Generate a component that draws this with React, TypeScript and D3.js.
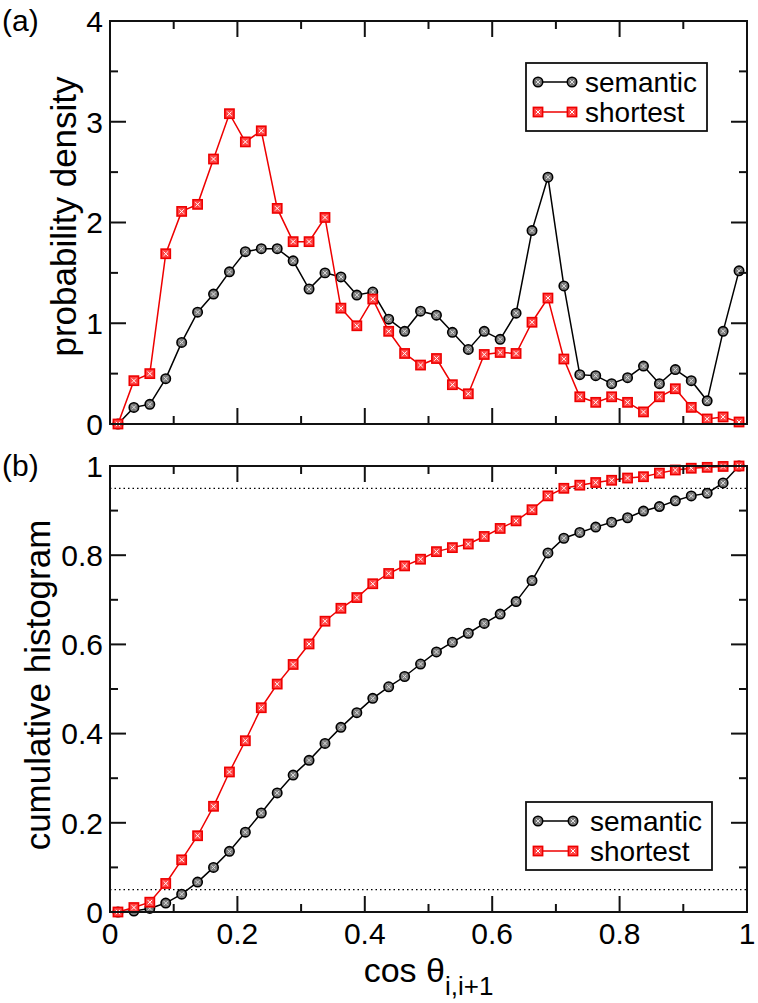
import React from "react";
import * as d3 from "d3";

const binCenters = [
  0.0125, 0.0375, 0.0625, 0.0875, 0.1125, 0.1375, 0.1625, 0.1875, 0.2125, 0.2375,
  0.2625, 0.2875, 0.3125, 0.3375, 0.3625, 0.3875, 0.4125, 0.4375, 0.4625, 0.4875,
  0.5125, 0.5375, 0.5625, 0.5875, 0.6125, 0.6375, 0.6625, 0.6875, 0.7125, 0.7375,
  0.7625, 0.7875, 0.8125, 0.8375, 0.8625, 0.8875, 0.9125, 0.9375, 0.9625, 0.9875,
];

const semanticDensity = [
  0, 0.165, 0.195, 0.45, 0.81, 1.11, 1.29, 1.51, 1.71, 1.74,
  1.74, 1.62, 1.34, 1.5, 1.46, 1.28, 1.31, 1.04, 0.92, 1.12,
  1.08, 0.91, 0.74, 0.92, 0.84, 1.1, 1.92, 2.45, 1.37, 0.49,
  0.48, 0.4, 0.46, 0.575, 0.4, 0.54, 0.43, 0.23, 0.92, 1.52,
];
const shortestDensity = [
  0, 0.43, 0.5, 1.69, 2.11, 2.18, 2.63, 3.08, 2.8, 2.91,
  2.14, 1.81, 1.81, 2.05, 1.15, 0.975, 1.24, 0.92, 0.7, 0.585,
  0.65, 0.39, 0.3, 0.69, 0.71, 0.7, 1.01, 1.25, 0.645, 0.27,
  0.215, 0.27, 0.215, 0.12, 0.27, 0.35, 0.165, 0.05, 0.07, 0.02,
];
const semanticCumulative = [
  0, 0.002, 0.008, 0.02, 0.04, 0.067, 0.1, 0.136, 0.179, 0.222,
  0.267, 0.307, 0.34, 0.378, 0.414, 0.447, 0.479, 0.505, 0.528, 0.556,
  0.583, 0.605, 0.625, 0.647, 0.668, 0.696, 0.743, 0.805, 0.838, 0.851,
  0.863, 0.874, 0.884, 0.899, 0.909, 0.922, 0.933, 0.939, 0.962, 1.0,
];
const shortestCumulative = [
  0, 0.01, 0.022, 0.064, 0.117, 0.171, 0.237, 0.314, 0.384, 0.458,
  0.511, 0.555, 0.601, 0.652, 0.681, 0.705, 0.736, 0.759, 0.776, 0.791,
  0.808, 0.817, 0.825, 0.842, 0.86, 0.877, 0.902, 0.933, 0.95, 0.957,
  0.963, 0.968, 0.973, 0.976, 0.984, 0.991, 0.995, 0.997, 0.999, 1.0,
];

const xMajorTicks = [0, 0.2, 0.4, 0.6, 0.8, 1];
const xTickLabels = ["0", "0.2", "0.4", "0.6", "0.8", "1"];
const xMinorTicks = [0.1, 0.3, 0.5, 0.7, 0.9];
const yTopMajor = [0, 1, 2, 3, 4];
const yTopLabels = ["0", "1", "2", "3", "4"];
const yTopMinor = [0.5, 1.5, 2.5, 3.5];
const yBotMajor = [0, 0.2, 0.4, 0.6, 0.8, 1];
const yBotLabels = ["0", "0.2", "0.4", "0.6", "0.8", "1"];
const yBotMinor = [0.1, 0.3, 0.5, 0.7, 0.9];
const thresholds = [0.05, 0.95];
const seriesNames = ["semantic", "shortest"];

const FONT = "'Liberation Sans', Arial, Helvetica, sans-serif";
const RED = "#ee0000";
const L = 110, R = 747;
const TOP_A = 21, BOT_A = 424;
const TOP_B = 466, BOT_B = 912;
const MAJ = 16, MIN = 8;
const TICK_FS = 30;

const x = d3.scaleLinear().domain([0, 1]).range([L, R]);
const yA = d3.scaleLinear().domain([0, 4]).range([BOT_A, TOP_A]);
const yB = d3.scaleLinear().domain([0, 1]).range([BOT_B, TOP_B]);

function Circ({ cx, cy }: { cx: number; cy: number }) {
  const r = 4.7;
  const d = 2;
  return (
    <g>
      <circle cx={cx} cy={cy} r={r} fill="#7a7a7a" stroke="#000" strokeWidth={1.6} />
      <path d={`M${cx - d},${cy - d}L${cx + d},${cy + d}M${cx - d},${cy + d}L${cx + d},${cy - d}`} stroke="#e0e0e0" strokeWidth={1} />
    </g>
  );
}
function Sq({ cx, cy }: { cx: number; cy: number }) {
  const h = 4.6;
  const d = 2.2;
  return (
    <g>
      <rect x={cx - h} y={cy - h} width={2 * h} height={2 * h} fill="#f44" stroke={RED} strokeWidth={1.6} />
      <path d={`M${cx - d},${cy - d}L${cx + d},${cy + d}M${cx - d},${cy + d}L${cx + d},${cy - d}`} stroke="#fff" strokeWidth={1} />
    </g>
  );
}

function Series({ vals, y, kind }: { vals: number[]; y: d3.ScaleLinear<number, number>; kind: "c" | "s" }) {
  const pts: [number, number][] = binCenters.map((c, i) => [x(c), y(vals[i])]);
  const line = d3.line()(pts) || "";
  return (
    <g>
      <path d={line} fill="none" stroke={kind === "c" ? "#000" : RED} strokeWidth={1.5} />
      {pts.map((p, i) => (kind === "c" ? <Circ key={i} cx={p[0]} cy={p[1]} /> : <Sq key={i} cx={p[0]} cy={p[1]} />))}
    </g>
  );
}

function Frame({ top, bot, y, yMaj, yMin, yLabels }: any) {
  const ticks: JSX.Element[] = [];
  xMajorTicks.forEach((t, i) => {
    ticks.push(<line key={`xm${i}`} x1={x(t)} x2={x(t)} y1={bot} y2={bot - MAJ} />);
    ticks.push(<line key={`xmt${i}`} x1={x(t)} x2={x(t)} y1={top} y2={top + MAJ} />);
  });
  xMinorTicks.forEach((t, i) => {
    ticks.push(<line key={`xn${i}`} x1={x(t)} x2={x(t)} y1={bot} y2={bot - MIN} />);
    ticks.push(<line key={`xnt${i}`} x1={x(t)} x2={x(t)} y1={top} y2={top + MIN} />);
  });
  yMaj.forEach((t: number, i: number) => {
    ticks.push(<line key={`ym${i}`} x1={L} x2={L + MAJ} y1={y(t)} y2={y(t)} />);
    ticks.push(<line key={`ymr${i}`} x1={R} x2={R - MAJ} y1={y(t)} y2={y(t)} />);
  });
  yMin.forEach((t: number, i: number) => {
    ticks.push(<line key={`yn${i}`} x1={L} x2={L + MIN} y1={y(t)} y2={y(t)} />);
    ticks.push(<line key={`ynr${i}`} x1={R} x2={R - MIN} y1={y(t)} y2={y(t)} />);
  });
  return (
    <g>
      <g stroke="#111" strokeWidth={2}>{ticks}</g>
      <rect x={L} y={top} width={R - L} height={bot - top} fill="none" stroke="#111" strokeWidth={2} />
      {yMaj.map((t: number, i: number) => (
        <text key={i} x={103} y={y(t)} dy="0.36em" textAnchor="end" fontSize={TICK_FS} fontFamily={FONT}>
          {yLabels[i]}
        </text>
      ))}
    </g>
  );
}

function Legend({ x0, y0, w, h, lx1, lx2, tx, rows }: any) {
  return (
    <g>
      <rect x={x0} y={y0} width={w} height={h} fill="#fff" stroke="#111" strokeWidth={1.8} />
      {rows.map((ry: number, i: number) => (
        <g key={i}>
          <line x1={lx1} x2={lx2} y1={ry} y2={ry} stroke={i === 0 ? "#000" : RED} strokeWidth={1.5} />
          {i === 0 ? (
            <>
              <Circ cx={lx1} cy={ry} />
              <Circ cx={lx2} cy={ry} />
            </>
          ) : (
            <>
              <Sq cx={lx1} cy={ry} />
              <Sq cx={lx2} cy={ry} />
            </>
          )}
          <text x={tx} y={ry} dy="0.36em" fontSize={28} fontFamily={FONT}>
            {seriesNames[i]}
          </text>
        </g>
      ))}
    </g>
  );
}

export default function App() {
  return (
    <svg width={758} height={1003} style={{ position: "absolute", left: 0, top: 0, background: "#fff" }}>
      <rect width={758} height={1003} fill="#fff" />
      {/* panel (a) */}
      <Series vals={semanticDensity} y={yA} kind="c" />
      <Series vals={shortestDensity} y={yA} kind="s" />
      <Frame top={TOP_A} bot={BOT_A} y={yA} yMaj={yTopMajor} yMin={yTopMinor} yLabels={yTopLabels} />
      <Legend x0={526} y0={63} w={181} h={68} lx1={538} lx2={572} tx={585} rows={[82, 112]} />
      <text x={2} y={31} fontSize={30} fontFamily={FONT}>(a)</text>
      <text transform={`translate(76,${(TOP_A + BOT_A) / 2 - 6}) rotate(-90)`} textAnchor="middle" fontSize={35} fontFamily={FONT}>
        probability density
      </text>

      {/* panel (b) */}
      {thresholds.map((t, i) => (
        <line key={i} x1={L} x2={R} y1={yB(t)} y2={yB(t)} stroke="#000" strokeWidth={1.2} strokeDasharray="1.5,3" />
      ))}
      <Series vals={semanticCumulative} y={yB} kind="c" />
      <Series vals={shortestCumulative} y={yB} kind="s" />
      <Frame top={TOP_B} bot={BOT_B} y={yB} yMaj={yBotMajor} yMin={yBotMinor} yLabels={yBotLabels} />
      <Legend x0={526} y0={802} w={186} h={68} lx1={538} lx2={573} tx={590} rows={[821, 851]} />
      <text x={2} y={476} fontSize={30} fontFamily={FONT}>(b)</text>
      <text transform={`translate(50,${(TOP_B + BOT_B) / 2 - 4}) rotate(-90)`} textAnchor="middle" fontSize={35} fontFamily={FONT}>
        cumulative histogram
      </text>
      {xMajorTicks.map((t, i) => (
        <text key={i} x={x(t)} y={944} textAnchor="middle" fontSize={TICK_FS} fontFamily={FONT}>
          {xTickLabels[i]}
        </text>
      ))}
      <text x={(L + R) / 2} y={982} textAnchor="middle" fontSize={34} fontFamily={FONT}>
        cos θ
        <tspan fontSize={26} dy={13}>i,i+1</tspan>
      </text>
    </svg>
  );
}
